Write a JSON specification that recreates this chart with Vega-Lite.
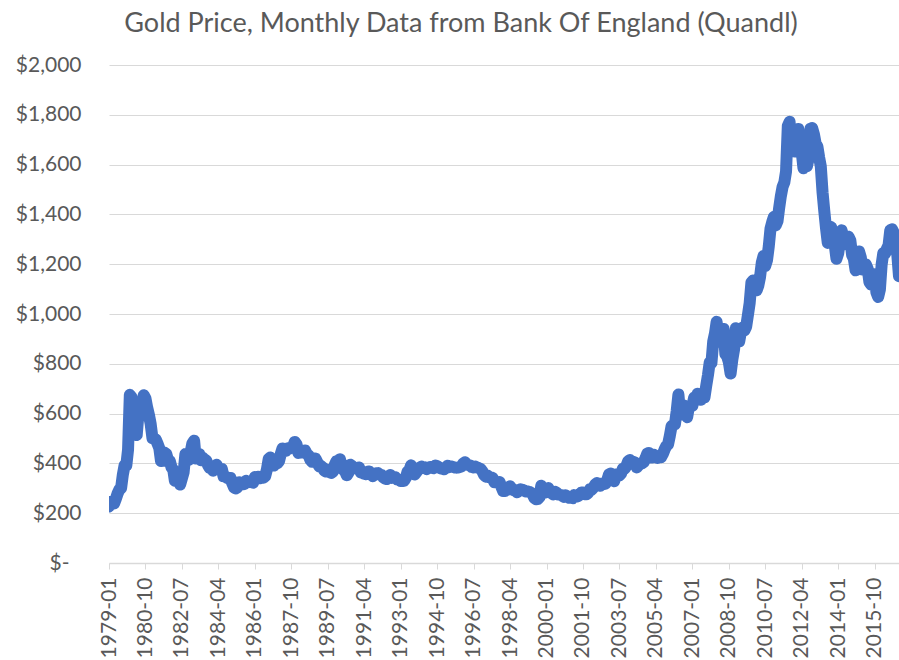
{
  "$schema": "https://vega.github.io/schema/vega-lite/v6.json",
  "width": 790,
  "height": 498,
  "autosize": {"type": "none"},
  "padding": {"left": 109, "top": 65, "right": 0, "bottom": 97},
  "background": "white",
  "title": {"text": "Gold Price, Monthly Data from Bank Of England (Quandl)", "font": "Lato", "fontSize": 27, "fontWeight": "normal", "color": "#595959", "anchor": "middle", "dx": -43, "offset": 16},
  "data": {
    "format": {"parse": {"d": "date:'%Y-%m'"}},
    "values": [
      {"d":"1979-01","p":227.3},{"d":"1979-02","p":245.7},{"d":"1979-03","p":242.1},{"d":"1979-04","p":239.2},{"d":"1979-05","p":257.6},{"d":"1979-06","p":279.1},{"d":"1979-07","p":294.7},{"d":"1979-08","p":300.8},{"d":"1979-09","p":355.1},{"d":"1979-10","p":391.7},{"d":"1979-11","p":392.5},{"d":"1979-12","p":455.1},
      {"d":"1980-01","p":675.3},{"d":"1980-02","p":665.3},{"d":"1980-03","p":553.6},{"d":"1980-04","p":517.4},{"d":"1980-05","p":513.8},{"d":"1980-06","p":600.7},{"d":"1980-07","p":644.3},{"d":"1980-08","p":627.0},{"d":"1980-09","p":673.6},{"d":"1980-10","p":661.2},{"d":"1980-11","p":623.5},{"d":"1980-12","p":594.9},
      {"d":"1981-01","p":557.7},{"d":"1981-02","p":500.8},{"d":"1981-03","p":499.8},{"d":"1981-04","p":495.8},{"d":"1981-05","p":479.7},{"d":"1981-06","p":460.8},{"d":"1981-07","p":409.3},{"d":"1981-08","p":410.1},{"d":"1981-09","p":443.2},{"d":"1981-10","p":437.8},{"d":"1981-11","p":413.4},{"d":"1981-12","p":410.1},
      {"d":"1982-01","p":384.4},{"d":"1982-02","p":374.2},{"d":"1982-03","p":330.2},{"d":"1982-04","p":350.4},{"d":"1982-05","p":333.9},{"d":"1982-06","p":314.9},{"d":"1982-07","p":339.1},{"d":"1982-08","p":364.0},{"d":"1982-09","p":437.7},{"d":"1982-10","p":422.9},{"d":"1982-11","p":414.0},{"d":"1982-12","p":444.3},
      {"d":"1983-01","p":480.4},{"d":"1983-02","p":491.4},{"d":"1983-03","p":419.3},{"d":"1983-04","p":432.8},{"d":"1983-05","p":438.3},{"d":"1983-06","p":412.8},{"d":"1983-07","p":422.7},{"d":"1983-08","p":416.3},{"d":"1983-09","p":411.8},{"d":"1983-10","p":394.0},{"d":"1983-11","p":381.6},{"d":"1983-12","p":388.0},
      {"d":"1984-01","p":370.9},{"d":"1984-02","p":386.2},{"d":"1984-03","p":394.3},{"d":"1984-04","p":381.1},{"d":"1984-05","p":377.4},{"d":"1984-06","p":377.8},{"d":"1984-07","p":348.0},{"d":"1984-08","p":348.1},{"d":"1984-09","p":341.1},{"d":"1984-10","p":340.2},{"d":"1984-11","p":341.2},{"d":"1984-12","p":320.2},
      {"d":"1985-01","p":303.0},{"d":"1985-02","p":299.1},{"d":"1985-03","p":303.8},{"d":"1985-04","p":324.5},{"d":"1985-05","p":316.6},{"d":"1985-06","p":316.4},{"d":"1985-07","p":317.4},{"d":"1985-08","p":329.8},{"d":"1985-09","p":323.8},{"d":"1985-10","p":326.1},{"d":"1985-11","p":325.2},{"d":"1985-12","p":322.5},
      {"d":"1986-01","p":345.4},{"d":"1986-02","p":339.1},{"d":"1986-03","p":346.4},{"d":"1986-04","p":340.4},{"d":"1986-05","p":342.6},{"d":"1986-06","p":342.7},{"d":"1986-07","p":348.5},{"d":"1986-08","p":376.8},{"d":"1986-09","p":418.4},{"d":"1986-10","p":424.0},{"d":"1986-11","p":395.4},{"d":"1986-12","p":391.3},
      {"d":"1987-01","p":408.3},{"d":"1987-02","p":401.1},{"d":"1987-03","p":408.9},{"d":"1987-04","p":438.4},{"d":"1987-05","p":460.2},{"d":"1987-06","p":449.6},{"d":"1987-07","p":450.5},{"d":"1987-08","p":461.1},{"d":"1987-09","p":460.2},{"d":"1987-10","p":465.4},{"d":"1987-11","p":467.6},{"d":"1987-12","p":486.3},
      {"d":"1988-01","p":476.7},{"d":"1988-02","p":442.1},{"d":"1988-03","p":443.6},{"d":"1988-04","p":451.7},{"d":"1988-05","p":451.3},{"d":"1988-06","p":451.6},{"d":"1988-07","p":437.6},{"d":"1988-08","p":431.4},{"d":"1988-09","p":413.6},{"d":"1988-10","p":406.2},{"d":"1988-11","p":420.1},{"d":"1988-12","p":418.7},
      {"d":"1989-01","p":404.0},{"d":"1989-02","p":387.8},{"d":"1989-03","p":390.2},{"d":"1989-04","p":384.3},{"d":"1989-05","p":371.0},{"d":"1989-06","p":367.6},{"d":"1989-07","p":374.9},{"d":"1989-08","p":365.3},{"d":"1989-09","p":361.8},{"d":"1989-10","p":366.9},{"d":"1989-11","p":393.6},{"d":"1989-12","p":409.2},
      {"d":"1990-01","p":410.1},{"d":"1990-02","p":416.8},{"d":"1990-03","p":393.1},{"d":"1990-04","p":374.2},{"d":"1990-05","p":369.0},{"d":"1990-06","p":352.3},{"d":"1990-07","p":362.5},{"d":"1990-08","p":394.8},{"d":"1990-09","p":389.3},{"d":"1990-10","p":380.8},{"d":"1990-11","p":381.8},{"d":"1990-12","p":378.2},
      {"d":"1991-01","p":383.6},{"d":"1991-02","p":363.8},{"d":"1991-03","p":363.3},{"d":"1991-04","p":358.4},{"d":"1991-05","p":356.8},{"d":"1991-06","p":366.7},{"d":"1991-07","p":367.7},{"d":"1991-08","p":356.5},{"d":"1991-09","p":348.7},{"d":"1991-10","p":358.7},{"d":"1991-11","p":360.2},{"d":"1991-12","p":361.1},
      {"d":"1992-01","p":354.5},{"d":"1992-02","p":353.9},{"d":"1992-03","p":344.3},{"d":"1992-04","p":338.6},{"d":"1992-05","p":337.2},{"d":"1992-06","p":340.8},{"d":"1992-07","p":353.1},{"d":"1992-08","p":342.0},{"d":"1992-09","p":345.3},{"d":"1992-10","p":344.4},{"d":"1992-11","p":335.0},{"d":"1992-12","p":334.8},
      {"d":"1993-01","p":329.0},{"d":"1993-02","p":329.3},{"d":"1993-03","p":330.1},{"d":"1993-04","p":342.2},{"d":"1993-05","p":367.2},{"d":"1993-06","p":371.5},{"d":"1993-07","p":392.1},{"d":"1993-08","p":379.0},{"d":"1993-09","p":355.3},{"d":"1993-10","p":364.2},{"d":"1993-11","p":373.8},{"d":"1993-12","p":383.3},
      {"d":"1994-01","p":386.9},{"d":"1994-02","p":381.9},{"d":"1994-03","p":384.0},{"d":"1994-04","p":377.3},{"d":"1994-05","p":381.4},{"d":"1994-06","p":385.6},{"d":"1994-07","p":385.5},{"d":"1994-08","p":380.4},{"d":"1994-09","p":391.6},{"d":"1994-10","p":389.8},{"d":"1994-11","p":384.4},{"d":"1994-12","p":379.3},
      {"d":"1995-01","p":379.0},{"d":"1995-02","p":376.5},{"d":"1995-03","p":382.1},{"d":"1995-04","p":391.0},{"d":"1995-05","p":385.2},{"d":"1995-06","p":387.6},{"d":"1995-07","p":386.2},{"d":"1995-08","p":383.8},{"d":"1995-09","p":383.0},{"d":"1995-10","p":383.1},{"d":"1995-11","p":385.5},{"d":"1995-12","p":387.4},
      {"d":"1996-01","p":399.5},{"d":"1996-02","p":404.8},{"d":"1996-03","p":396.2},{"d":"1996-04","p":392.8},{"d":"1996-05","p":392.0},{"d":"1996-06","p":385.3},{"d":"1996-07","p":383.5},{"d":"1996-08","p":387.5},{"d":"1996-09","p":383.1},{"d":"1996-10","p":381.1},{"d":"1996-11","p":377.9},{"d":"1996-12","p":369.1},
      {"d":"1997-01","p":354.1},{"d":"1997-02","p":346.6},{"d":"1997-03","p":351.8},{"d":"1997-04","p":344.5},{"d":"1997-05","p":343.8},{"d":"1997-06","p":340.8},{"d":"1997-07","p":324.1},{"d":"1997-08","p":324.0},{"d":"1997-09","p":322.8},{"d":"1997-10","p":324.9},{"d":"1997-11","p":306.0},{"d":"1997-12","p":288.7},
      {"d":"1998-01","p":289.1},{"d":"1998-02","p":297.5},{"d":"1998-03","p":295.9},{"d":"1998-04","p":308.4},{"d":"1998-05","p":299.1},{"d":"1998-06","p":292.3},{"d":"1998-07","p":292.9},{"d":"1998-08","p":284.1},{"d":"1998-09","p":289.0},{"d":"1998-10","p":295.9},{"d":"1998-11","p":294.1},{"d":"1998-12","p":291.7},
      {"d":"1999-01","p":287.1},{"d":"1999-02","p":287.3},{"d":"1999-03","p":286.0},{"d":"1999-04","p":282.6},{"d":"1999-05","p":276.4},{"d":"1999-06","p":261.3},{"d":"1999-07","p":256.1},{"d":"1999-08","p":256.7},{"d":"1999-09","p":264.7},{"d":"1999-10","p":310.7},{"d":"1999-11","p":293.2},{"d":"1999-12","p":283.1},
      {"d":"2000-01","p":284.6},{"d":"2000-02","p":300.9},{"d":"2000-03","p":286.4},{"d":"2000-04","p":280.0},{"d":"2000-05","p":275.3},{"d":"2000-06","p":285.7},{"d":"2000-07","p":281.6},{"d":"2000-08","p":274.5},{"d":"2000-09","p":273.7},{"d":"2000-10","p":270.1},{"d":"2000-11","p":266.0},{"d":"2000-12","p":272.0},
      {"d":"2001-01","p":265.5},{"d":"2001-02","p":261.9},{"d":"2001-03","p":263.0},{"d":"2001-04","p":260.5},{"d":"2001-05","p":272.4},{"d":"2001-06","p":270.2},{"d":"2001-07","p":267.5},{"d":"2001-08","p":272.4},{"d":"2001-09","p":283.4},{"d":"2001-10","p":283.1},{"d":"2001-11","p":276.2},{"d":"2001-12","p":275.9},
      {"d":"2002-01","p":281.7},{"d":"2002-02","p":295.5},{"d":"2002-03","p":294.0},{"d":"2002-04","p":302.7},{"d":"2002-05","p":314.5},{"d":"2002-06","p":321.2},{"d":"2002-07","p":313.3},{"d":"2002-08","p":310.3},{"d":"2002-09","p":319.2},{"d":"2002-10","p":316.6},{"d":"2002-11","p":319.2},{"d":"2002-12","p":333.4},
      {"d":"2003-01","p":356.9},{"d":"2003-02","p":359.0},{"d":"2003-03","p":340.6},{"d":"2003-04","p":328.2},{"d":"2003-05","p":355.7},{"d":"2003-06","p":356.4},{"d":"2003-07","p":351.0},{"d":"2003-08","p":359.8},{"d":"2003-09","p":378.9},{"d":"2003-10","p":378.9},{"d":"2003-11","p":389.9},{"d":"2003-12","p":407.6},
      {"d":"2004-01","p":414.0},{"d":"2004-02","p":405.3},{"d":"2004-03","p":406.7},{"d":"2004-04","p":403.0},{"d":"2004-05","p":383.8},{"d":"2004-06","p":392.4},{"d":"2004-07","p":398.1},{"d":"2004-08","p":400.5},{"d":"2004-09","p":405.3},{"d":"2004-10","p":420.5},{"d":"2004-11","p":439.4},{"d":"2004-12","p":442.1},
      {"d":"2005-01","p":424.0},{"d":"2005-02","p":423.4},{"d":"2005-03","p":434.2},{"d":"2005-04","p":429.2},{"d":"2005-05","p":421.9},{"d":"2005-06","p":430.7},{"d":"2005-07","p":424.5},{"d":"2005-08","p":437.9},{"d":"2005-09","p":456.0},{"d":"2005-10","p":469.9},{"d":"2005-11","p":476.7},{"d":"2005-12","p":510.1},
      {"d":"2006-01","p":549.9},{"d":"2006-02","p":555.0},{"d":"2006-03","p":557.1},{"d":"2006-04","p":610.6},{"d":"2006-05","p":676.5},{"d":"2006-06","p":596.2},{"d":"2006-07","p":633.7},{"d":"2006-08","p":632.6},{"d":"2006-09","p":598.2},{"d":"2006-10","p":585.8},{"d":"2006-11","p":627.8},{"d":"2006-12","p":629.8},
      {"d":"2007-01","p":631.2},{"d":"2007-02","p":664.8},{"d":"2007-03","p":654.9},{"d":"2007-04","p":679.4},{"d":"2007-05","p":666.9},{"d":"2007-06","p":655.5},{"d":"2007-07","p":665.3},{"d":"2007-08","p":665.4},{"d":"2007-09","p":712.7},{"d":"2007-10","p":754.6},{"d":"2007-11","p":806.3},{"d":"2007-12","p":803.2},
      {"d":"2008-01","p":889.6},{"d":"2008-02","p":922.3},{"d":"2008-03","p":968.4},{"d":"2008-04","p":909.7},{"d":"2008-05","p":888.7},{"d":"2008-06","p":889.5},{"d":"2008-07","p":939.8},{"d":"2008-08","p":839.0},{"d":"2008-09","p":829.9},{"d":"2008-10","p":806.6},{"d":"2008-11","p":760.9},{"d":"2008-12","p":816.1},
      {"d":"2009-01","p":858.7},{"d":"2009-02","p":943.2},{"d":"2009-03","p":924.3},{"d":"2009-04","p":890.2},{"d":"2009-05","p":928.6},{"d":"2009-06","p":945.7},{"d":"2009-07","p":934.2},{"d":"2009-08","p":949.4},{"d":"2009-09","p":996.6},{"d":"2009-10","p":1043.2},{"d":"2009-11","p":1127.0},{"d":"2009-12","p":1134.7},
      {"d":"2010-01","p":1118.0},{"d":"2010-02","p":1095.4},{"d":"2010-03","p":1113.3},{"d":"2010-04","p":1148.7},{"d":"2010-05","p":1205.4},{"d":"2010-06","p":1232.9},{"d":"2010-07","p":1193.0},{"d":"2010-08","p":1215.8},{"d":"2010-09","p":1271.0},{"d":"2010-10","p":1342.0},{"d":"2010-11","p":1369.9},{"d":"2010-12","p":1390.6},
      {"d":"2011-01","p":1356.4},{"d":"2011-02","p":1372.7},{"d":"2011-03","p":1424.0},{"d":"2011-04","p":1473.8},{"d":"2011-05","p":1510.4},{"d":"2011-06","p":1528.7},{"d":"2011-07","p":1572.8},{"d":"2011-08","p":1755.8},{"d":"2011-09","p":1771.9},{"d":"2011-10","p":1665.2},{"d":"2011-11","p":1739.0},{"d":"2011-12","p":1652.3},
      {"d":"2012-01","p":1656.1},{"d":"2012-02","p":1742.6},{"d":"2012-03","p":1673.8},{"d":"2012-04","p":1650.1},{"d":"2012-05","p":1585.5},{"d":"2012-06","p":1596.7},{"d":"2012-07","p":1593.9},{"d":"2012-08","p":1626.0},{"d":"2012-09","p":1744.5},{"d":"2012-10","p":1746.6},{"d":"2012-11","p":1721.6},{"d":"2012-12","p":1684.8},
      {"d":"2013-01","p":1671.9},{"d":"2013-02","p":1627.6},{"d":"2013-03","p":1593.1},{"d":"2013-04","p":1487.9},{"d":"2013-05","p":1414.0},{"d":"2013-06","p":1343.4},{"d":"2013-07","p":1285.5},{"d":"2013-08","p":1351.7},{"d":"2013-09","p":1348.6},{"d":"2013-10","p":1316.6},{"d":"2013-11","p":1275.9},{"d":"2013-12","p":1221.6},
      {"d":"2014-01","p":1244.3},{"d":"2014-02","p":1299.6},{"d":"2014-03","p":1336.1},{"d":"2014-04","p":1299.0},{"d":"2014-05","p":1287.5},{"d":"2014-06","p":1279.1},{"d":"2014-07","p":1310.6},{"d":"2014-08","p":1295.1},{"d":"2014-09","p":1236.6},{"d":"2014-10","p":1222.5},{"d":"2014-11","p":1175.3},{"d":"2014-12","p":1200.6},
      {"d":"2015-01","p":1250.8},{"d":"2015-02","p":1227.1},{"d":"2015-03","p":1178.6},{"d":"2015-04","p":1198.9},{"d":"2015-05","p":1198.6},{"d":"2015-06","p":1181.5},{"d":"2015-07","p":1128.3},{"d":"2015-08","p":1117.9},{"d":"2015-09","p":1124.8},{"d":"2015-10","p":1159.3},{"d":"2015-11","p":1086.4},{"d":"2015-12","p":1068.3},
      {"d":"2016-01","p":1097.9},{"d":"2016-02","p":1199.5},{"d":"2016-03","p":1245.1},{"d":"2016-04","p":1242.3},{"d":"2016-05","p":1260.9},{"d":"2016-06","p":1276.4},{"d":"2016-07","p":1336.7},{"d":"2016-08","p":1340.2},{"d":"2016-09","p":1326.6},{"d":"2016-10","p":1266.6},{"d":"2016-11","p":1238.4},{"d":"2016-12","p":1151.4}
    ]
  },
  "mark": {"type": "line", "color": "#4472C4", "strokeWidth": 12, "strokeCap": "round", "strokeJoin": "round", "clip": true},
  "encoding": {
    "x": {
      "field": "d",
      "type": "temporal",
      "scale": {"domain": [{"year": 1979, "month": 1}, {"year": 2016, "month": 12}]},
      "axis": {
        "title": null,
        "values": [{"year":1979,"month":1},{"year":1980,"month":10},{"year":1982,"month":7},{"year":1984,"month":4},{"year":1986,"month":1},{"year":1987,"month":10},{"year":1989,"month":7},{"year":1991,"month":4},{"year":1993,"month":1},{"year":1994,"month":10},{"year":1996,"month":7},{"year":1998,"month":4},{"year":2000,"month":1},{"year":2001,"month":10},{"year":2003,"month":7},{"year":2005,"month":4},{"year":2007,"month":1},{"year":2008,"month":10},{"year":2010,"month":7},{"year":2012,"month":4},{"year":2014,"month":1},{"year":2015,"month":10}],
        "format": "%Y-%m",
        "labelAngle": -90,
        "grid": false,
        "domainColor": "#d9d9d9",
        "domainWidth": 1.5,
        "tickColor": "#d9d9d9",
        "tickSize": 6,
        "labelPadding": 8,
        "labelFont": "Lato",
        "labelFontSize": 21,
        "labelColor": "#595959",
        "labelOverlap": false,
        "labelFlush": false
      }
    },
    "y": {
      "field": "p",
      "type": "quantitative",
      "scale": {"domain": [0, 2000]},
      "axis": {
        "title": null,
        "values": [0, 200, 400, 600, 800, 1000, 1200, 1400, 1600, 1800, 2000],
        "labelExpr": "datum.value == 0 ? '$-' : '$' + format(datum.value, ',')",
        "domain": false,
        "ticks": false,
        "labelPadding": {"condition": {"test": "datum.value == 0", "value": 40}, "value": 28},
        "gridColor": "#d9d9d9",
        "gridWidth": 1.2,
        "labelFont": "Lato",
        "labelFontSize": 21,
        "labelColor": "#595959"
      }
    }
  },
  "config": {"view": {"stroke": null}}
}
